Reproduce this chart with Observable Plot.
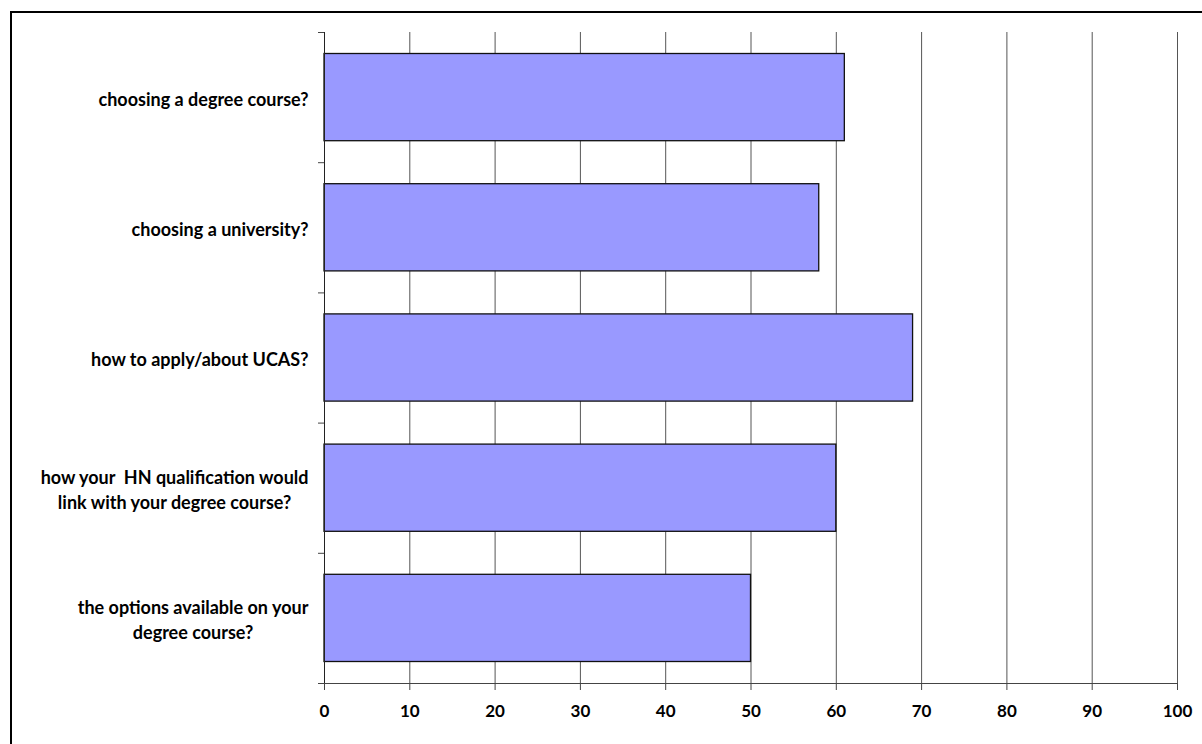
<!DOCTYPE html>
<html>
<head>
<meta charset="utf-8">
<script src="https://cdn.jsdelivr.net/npm/d3@7"></script>
<script src="https://cdn.jsdelivr.net/npm/@observablehq/plot@0.6"></script>
<style>
  html, body { margin: 0; padding: 0; background: #fff; }
  #wrap { position: relative; width: 1202px; height: 744px; overflow: hidden; }
  #frame { position: absolute; left: 10px; top: 11px; width: 1300px; height: 800px;
           border-left: 2px solid #000; border-top: 2px solid #000; pointer-events: none; }
  #chart { position: absolute; left: 0; top: 0; }
</style>
</head>
<body>
<div id="wrap"><div id="chart"></div><div id="frame"></div></div>
<script>
const categories = [
  "choosing a degree course?",
  "choosing a university?",
  "how to apply/about UCAS?",
  "how your  HN qualification would\nlink with your degree course?",
  "the options available on your\ndegree course?"
];
const values = [61, 58, 69, 60, 50];
const xTicks = [0, 10, 20, 30, 40, 50, 60, 70, 80, 90, 100];

const rows = categories.map((c, i) => ({cat: c, value: values[i], i}));
const boundaries = d3.range(categories.length + 1);
const font = "Lato, 'Open Sans', sans-serif";

const chart = Plot.plot({
  width: 1202,
  height: 744,
  marginLeft: 324,
  marginRight: 25,
  marginTop: 32,
  marginBottom: 61,
  style: {fontFamily: font, fontWeight: "bold", fontSize: "17px", color: "#000", background: "transparent"},
  x: {domain: [0, 100], ticks: xTicks},
  y: {domain: [0, categories.length], reverse: true},
  marks: [
    Plot.ruleX(xTicks.slice(1), {y1: 0, y2: categories.length, stroke: "#555", strokeWidth: 1}),
    Plot.rectX(rows, {x1: 0, x2: "value", y1: "i", y2: d => d.i + 1, insetTop: 21.5, insetBottom: 21.5,
      fill: "#9999ff", stroke: "#111", strokeWidth: 1.3}),
    Plot.ruleX([0], {y1: 0, y2: categories.length, stroke: "#222", strokeWidth: 1}),
    Plot.ruleY([categories.length], {x1: 0, x2: 100, stroke: "#444", strokeWidth: 1}),
    Plot.axisY({ticks: boundaries, tickFormat: () => "", tickSize: 6, stroke: "#444", label: null}),
    Plot.axisX({ticks: xTicks, tickSize: 7, tickPadding: 14, tickFormat: d => String(d), label: null,
      stroke: "#444", fontSize: 17, fontWeight: "bold"}),
    Plot.text(rows, {x: 0, y: d => d.i + 0.5, text: "cat", textAnchor: "end", dx: -16,
      lineHeight: 1.4, fontSize: 18, fontWeight: "bold", fill: "#000", className: "cat-label"})
  ]
});
document.getElementById("chart").appendChild(chart);

// center-align the lines of each multi-line label within its right-aligned block
chart.querySelectorAll("g.cat-label text").forEach(t => {
  const w = t.getBBox().width;
  t.setAttribute("text-anchor", "middle");
  const spans = t.querySelectorAll("tspan");
  if (spans.length) {
    spans.forEach(s => s.setAttribute("x", (parseFloat(s.getAttribute("x")) || 0) - w / 2));
  } else {
    t.setAttribute("x", (parseFloat(t.getAttribute("x")) || 0) - w / 2);
  }
});
</script>
</body>
</html>
